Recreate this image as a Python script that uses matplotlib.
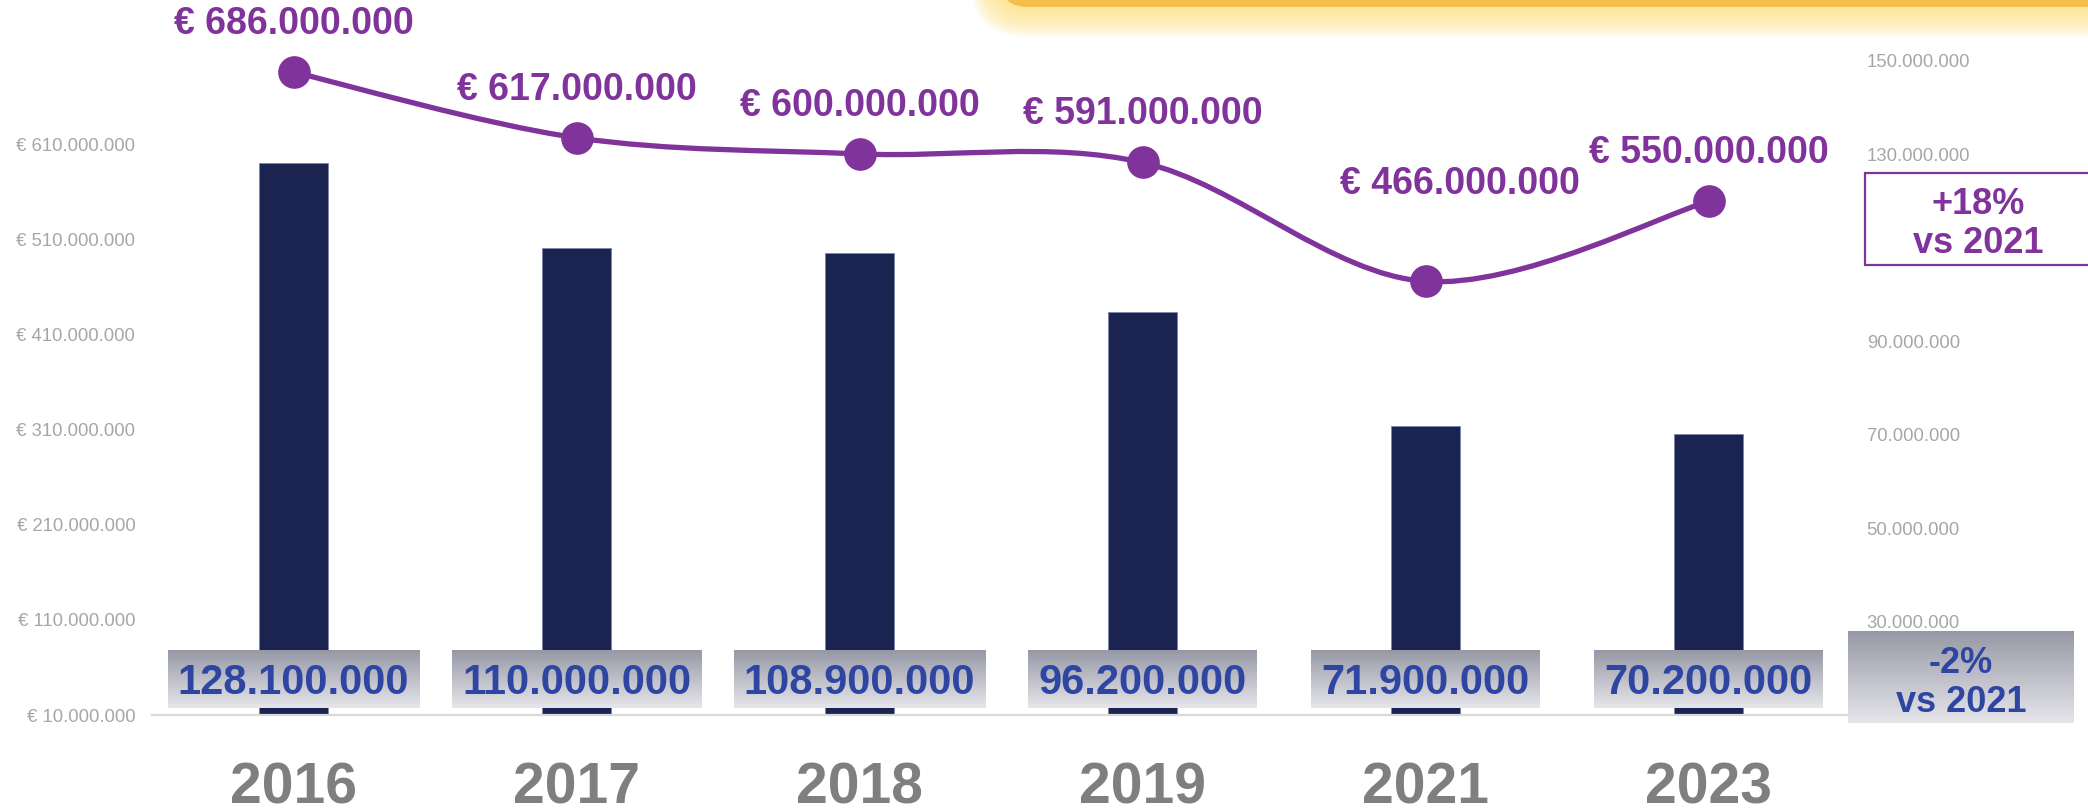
import numpy as np
import matplotlib
matplotlib.use('Agg')
import matplotlib.pyplot as plt
from matplotlib.path import Path
from matplotlib.patches import PathPatch, FancyBboxPatch, Rectangle
from matplotlib.ticker import FuncFormatter

plt.rcParams['font.family'] = ['Liberation Sans', 'DejaVu Sans']

# data
years = ['2016', '2017', '2018', '2019', '2021', '2023']
bar_values = [128100000, 110000000, 108900000, 96200000, 71900000, 70200000]
line_values = [686000000, 617000000, 600000000, 591000000, 466000000, 550000000]
line_delta = ['+18%', 'vs 2021']
bar_delta = ['-2%', 'vs 2021']

# label offsets (pixels) for the line labels
label_dx = [0, 0, 0, 0, 34, 0]
label_dy = [48, 48, 48, 48, 97, 48]

purple = '#80339b'
navy = '#1b2450'
blue = '#2e45a2'
grey_txt = '#a6a6a6'
W, H = 2088, 808


def dots(v):
    return f'{v:,.0f}'.replace(',', '.')


def smooth_path(xs, ys):
    # excel-like smoothed line as cubic bezier segments
    pts = np.column_stack([xs, ys]).astype(float)
    ext = np.vstack([pts[0], pts, pts[-1]])
    verts = [pts[0]]
    codes = [Path.MOVETO]
    for i in range(len(pts) - 1):
        p0, p1, p2, p3 = ext[i], ext[i + 1], ext[i + 2], ext[i + 3]
        verts += [p1 + (p2 - p0) / 6, p2 - (p3 - p1) / 6, p2]
        codes += [Path.CURVE4] * 3
    return Path(verts, codes)


fig = plt.figure(figsize=(W / 100, H / 100), dpi=100)
ax = fig.add_axes([152 / W, 93 / H, 1698 / W, 675 / H])
ax2 = ax.twinx()
ax.set_zorder(ax2.get_zorder() + 1)
ax.patch.set_visible(False)

x = np.arange(len(years))

# bars on the right axis
ax2.bar(x, bar_values, width=0.247, color=navy, edgecolor='#7d86a6', linewidth=0.6, zorder=2)
ax2.set_ylim(10e6, 154.4e6)
ax2.set_yticks(np.arange(10e6, 151e6, 20e6))
ax2.yaxis.set_major_formatter(FuncFormatter(lambda v, p: dots(v)))

# smoothed line on the left axis
ax.add_patch(PathPatch(smooth_path(x, line_values), facecolor='none', edgecolor=purple,
                       lw=3.8, capstyle='round', zorder=3))
ax.plot(x, line_values, ls='none', marker='o', ms=22.5, color=purple, zorder=4)
for i, v in enumerate(line_values):
    ax.annotate('€ ' + dots(v), xy=(i, v), xytext=(label_dx[i], label_dy[i]),
                textcoords='offset pixels', ha='center', va='center',
                fontsize=27, fontweight='bold', color=purple, zorder=5)

ax.set_ylim(10e6, 719.8e6)
ax.set_yticks(np.arange(10e6, 611e6, 100e6))
ax.yaxis.set_major_formatter(FuncFormatter(lambda v, p: '€ ' + dots(v)))
ax.set_xlim(-0.5, 5.5)

for a in (ax, ax2):
    for s in a.spines.values():
        s.set_visible(False)
    a.tick_params(axis='y', length=0, pad=12, labelsize=13.3, labelcolor=grey_txt)
    a.tick_params(axis='x', bottom=False, labelbottom=False)
ax.spines['bottom'].set_visible(True)
ax.spines['bottom'].set_color('#d9d9d9')
ax.spines['bottom'].set_linewidth(1.6)

# overlay in pixel coords (y from top)
ov = fig.add_axes([0, 0, 1, 1])
ov.set_zorder(10)
ov.axis('off')
ov.set_xlim(0, W)
ov.set_ylim(H, 0)

grad = np.linspace(0, 1, 64)[:, None, None]
g_top = np.array([0.59, 0.60, 0.65])
g_bot = np.array([0.90, 0.90, 0.92])
grad_img = g_top + (g_bot - g_top) * grad

renderer = fig.canvas.get_renderer()
for i, v in enumerate(bar_values):
    px = ax2.transData.transform((i, 0))[0]
    t = ov.text(px, 683, dots(v), ha='center', va='center', fontsize=30,
                fontweight='bold', color=blue, zorder=3)
    w = t.get_window_extent(renderer=renderer).width + 20
    ov.imshow(grad_img, extent=(px - w / 2, px + w / 2, 708, 650), aspect='auto',
              interpolation='bilinear', zorder=2)
    ov.text(px, 788, years[i], ha='center', va='center', fontsize=41,
            fontweight='bold', color='#7f7f7f')

# delta boxes at the right
ov.add_patch(Rectangle((1865, 173), 240, 92, facecolor='white', edgecolor=purple, lw=1.6, zorder=2))
ov.text(1978, 224, '\n'.join(line_delta), ha='center', va='center', fontsize=26,
        fontweight='bold', color=purple, linespacing=1.18, zorder=3)
ov.imshow(grad_img, extent=(1848, 2074, 723, 631), aspect='auto', interpolation='bilinear', zorder=2)
ov.text(1961, 683, '\n'.join(bar_delta), ha='center', va='center', fontsize=26,
        fontweight='bold', color=blue, linespacing=1.18, zorder=3)

# yellow callout box cut off at the top, with soft glow
for k in range(15, 0, -1):
    e = 2 * k
    ov.add_patch(FancyBboxPatch((1000 - e, -80), 1200 + 2 * e, 87 + e,
                                boxstyle=f'round,pad=0,rounding_size={28 + e}',
                                facecolor='#fde58a', edgecolor='none', alpha=0.10, zorder=1))
ov.add_patch(FancyBboxPatch((1000, -80), 1200, 87, boxstyle='round,pad=0,rounding_size=28',
                            facecolor='#f2c04a', edgecolor='none', zorder=1))

ov.set_xlim(0, W)
ov.set_ylim(H, 0)
fig.savefig('out.png', dpi=100)
